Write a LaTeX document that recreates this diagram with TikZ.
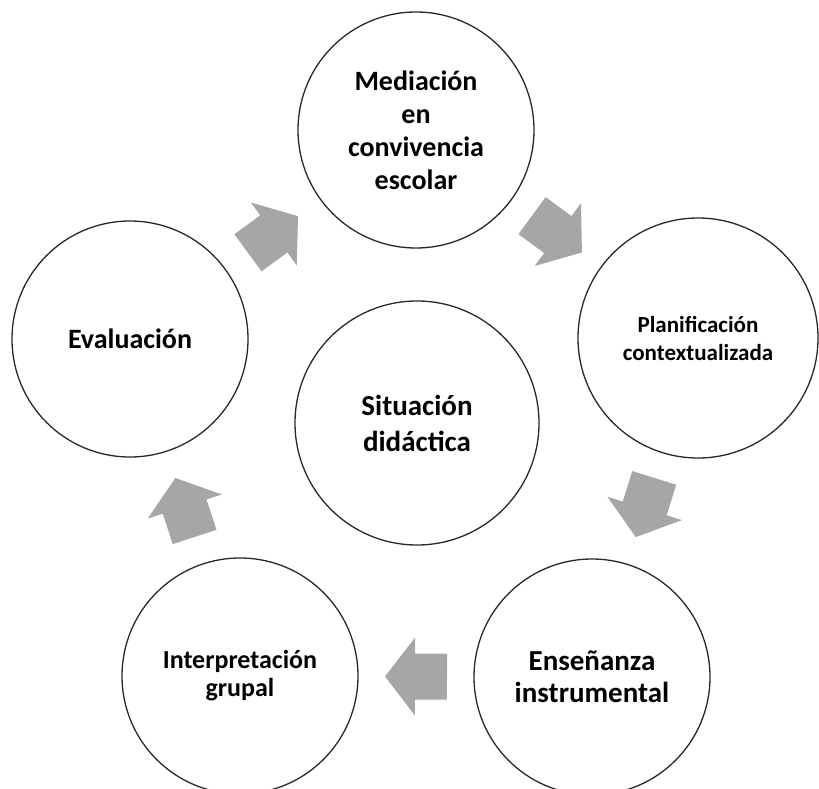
\documentclass[tikz,border=0pt]{standalone}
\usepackage{fontspec}
\setmainfont{Carlito}
\definecolor{arrowgray}{RGB}{166,166,166}
\definecolor{ringline}{RGB}{40,40,40}
\begin{document}
\begin{tikzpicture}[x=1pt,y=-1pt,
  circ/.style={circle, draw=ringline, line width=1.3pt, minimum size=236pt, inner sep=0pt, align=center},
  cyc/.pic={\fill[arrowgray] (-31,-23) -- (1,-23) -- (1,-39) -- (31,0) -- (1,39) -- (1,23) -- (-31,23) -- cycle;}]
\useasboundingbox (0,0) rectangle (819,789);
\node[circ, font=\bfseries\fontsize{28}{33}\selectfont] (M) at (416,130) {Mediación\\en\\convivencia\\escolar};
\node[circ, minimum size=240pt, font=\bfseries\fontsize{23}{28}\selectfont] (P) at (698,338) {Planificación\\contextualizada};
\node[circ, font=\bfseries\fontsize{29}{32}\selectfont] (En) at (592,677) {Enseñanza\\instrumental};
\node[circ, font=\bfseries\fontsize{26}{28}\selectfont] (I) at (240,676) {Interpretación\\grupal};
\node[circ, font=\bfseries\fontsize{28}{33}\selectfont] (Ev) at (130,339) {Evaluación};
\node[circ, minimum size=244pt, font=\bfseries\fontsize{29}{36}\selectfont] (S) at (417,423) {Situación\\didáctica};
\path (Ev.center) -- (M.center) pic[pos=0.5, sloped, allow upside down]{cyc};
\path (M.center) -- (P.center) pic[pos=0.5, sloped, allow upside down]{cyc};
\path (P.center) -- (En.center) pic[pos=0.5, sloped, allow upside down]{cyc};
\path (En.center) -- (I.center) pic[pos=0.5, sloped, allow upside down]{cyc};
\path (I.center) -- (Ev.center) pic[pos=0.5, sloped, allow upside down]{cyc};
\end{tikzpicture}
\end{document}
